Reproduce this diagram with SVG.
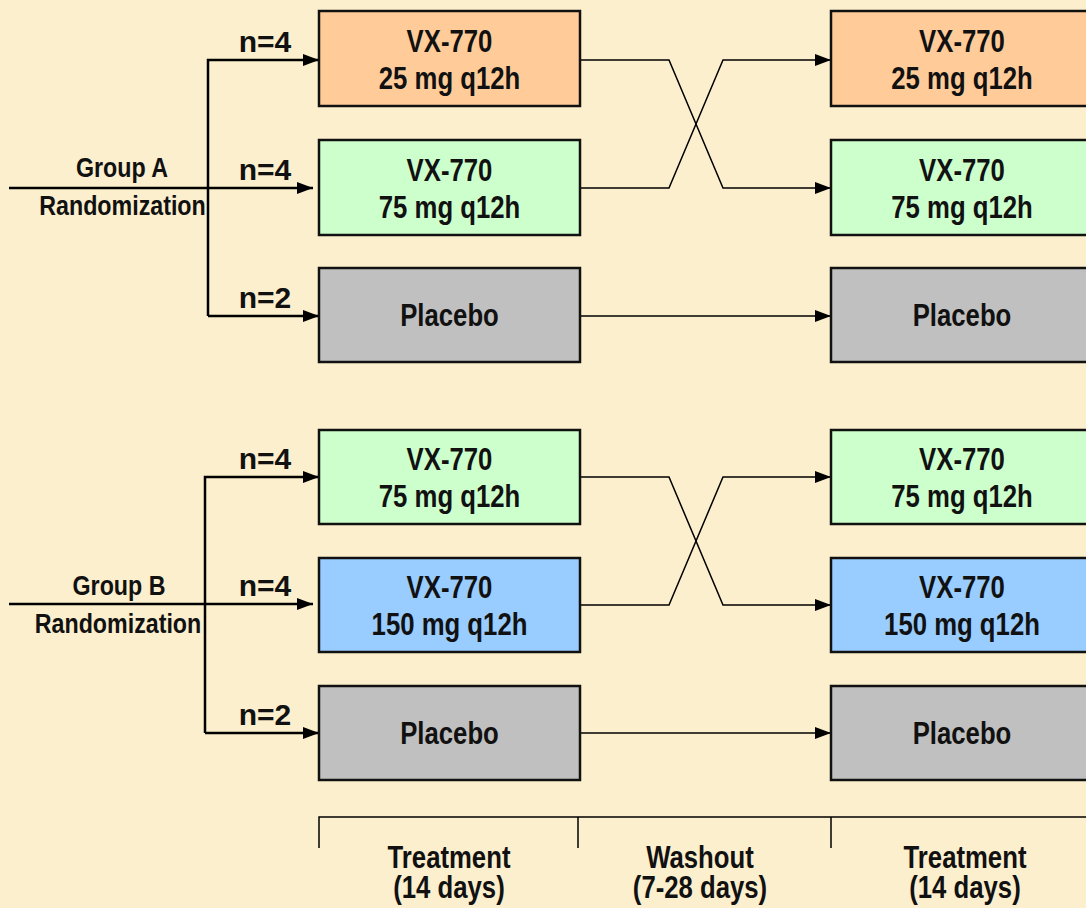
<svg xmlns="http://www.w3.org/2000/svg" width="1086" height="908" viewBox="0 0 1086 908">
<defs>
<marker id="ah" markerWidth="16" markerHeight="12" refX="16" refY="6" orient="auto" markerUnits="userSpaceOnUse">
<path d="M0,0 L16,6 L0,12 Z" fill="#000"/>
</marker>
<style>
.t{font-family:"Liberation Sans",Arial,sans-serif;font-weight:bold;fill:#111;text-anchor:middle}
.big{font-size:31px}
.n{font-size:30px}
.sm{font-size:28px}
.box{stroke:#111;stroke-width:2.5}
.ln{fill:none;stroke:#000;stroke-width:2.5}
.lt{fill:none;stroke:#000;stroke-width:1.5}
</style>
</defs>
<rect x="0" y="0" width="1086" height="908" fill="#FCEFCD"/>

<g id="connectors">
<path class="ln" d="M9,188 L313,188" marker-end="url(#ah)"/>
<path class="ln" d="M208,316 L208,60 L319,60" marker-end="url(#ah)"/>
<path class="ln" d="M208,316 L319,316" marker-end="url(#ah)"/>
<path class="lt" d="M580,60 L669,60 L723,188 L831,188" marker-end="url(#ah)"/>
<path class="lt" d="M580,188 L669,188 L723,60 L831,60" marker-end="url(#ah)"/>
<path class="lt" d="M580,316 L831,316" marker-end="url(#ah)"/>

<path class="ln" d="M9,604 L313,604" marker-end="url(#ah)"/>
<path class="ln" d="M205,733 L205,477 L319,477" marker-end="url(#ah)"/>
<path class="ln" d="M205,733 L319,733" marker-end="url(#ah)"/>
<path class="lt" d="M580,477 L669,477 L723,605 L831,605" marker-end="url(#ah)"/>
<path class="lt" d="M580,605 L669,605 L723,477 L831,477" marker-end="url(#ah)"/>
<path class="lt" d="M580,733 L831,733" marker-end="url(#ah)"/>

<path class="lt" d="M319,848 L319,817 L1086,817 M578,817 L578,848 M831,817 L831,848"/>
</g>

<g id="labels">
<text class="t sm" transform="matrix(0.83,0,0,1,122,0)" x="0" y="177">Group A</text>
<text class="t sm" transform="matrix(0.83,0,0,1,122.5,0)" x="0" y="215">Randomization</text>
<text class="t n" x="265" y="52">n=4</text>
<text class="t n" x="265" y="180">n=4</text>
<text class="t n" x="265" y="308">n=2</text>
<text class="t sm" transform="matrix(0.83,0,0,1,119,0)" x="0" y="595">Group B</text>
<text class="t sm" transform="matrix(0.83,0,0,1,118,0)" x="0" y="633">Randomization</text>
<text class="t n" x="265" y="469">n=4</text>
<text class="t n" x="265" y="596">n=4</text>
<text class="t n" x="265" y="725">n=2</text>
</g>

<g id="A1L"><rect class="box" x="319" y="11" width="261" height="95" fill="#FFCC99"/><text class="t big" transform="matrix(0.83,0,0,1,449.5,0)" x="0" y="52">VX-770</text><text class="t big" transform="matrix(0.83,0,0,1,449.5,0)" x="0" y="89">25 mg q12h</text></g>
<g id="A2L"><rect class="box" x="319" y="140" width="261" height="95" fill="#CCFFCC"/><text class="t big" transform="matrix(0.83,0,0,1,449.5,0)" x="0" y="181">VX-770</text><text class="t big" transform="matrix(0.83,0,0,1,449.5,0)" x="0" y="218">75 mg q12h</text></g>
<g id="A3L"><rect class="box" x="319" y="268" width="261" height="94" fill="#C0C0C0"/><text class="t big" transform="matrix(0.83,0,0,1,449.5,0)" x="0" y="326">Placebo</text></g>
<g id="A1R"><rect class="box" x="831" y="11" width="261" height="95" fill="#FFCC99"/><text class="t big" transform="matrix(0.83,0,0,1,962,0)" x="0" y="52">VX-770</text><text class="t big" transform="matrix(0.83,0,0,1,962,0)" x="0" y="89">25 mg q12h</text></g>
<g id="A2R"><rect class="box" x="831" y="140" width="261" height="95" fill="#CCFFCC"/><text class="t big" transform="matrix(0.83,0,0,1,962,0)" x="0" y="181">VX-770</text><text class="t big" transform="matrix(0.83,0,0,1,962,0)" x="0" y="218">75 mg q12h</text></g>
<g id="A3R"><rect class="box" x="831" y="268" width="261" height="94" fill="#C0C0C0"/><text class="t big" transform="matrix(0.83,0,0,1,962,0)" x="0" y="326">Placebo</text></g>

<g id="B1L"><rect class="box" x="319" y="430" width="261" height="94" fill="#CCFFCC"/><text class="t big" transform="matrix(0.83,0,0,1,449.5,0)" x="0" y="470">VX-770</text><text class="t big" transform="matrix(0.83,0,0,1,449.5,0)" x="0" y="507">75 mg q12h</text></g>
<g id="B2L"><rect class="box" x="319" y="558" width="261" height="94" fill="#99CCFF"/><text class="t big" transform="matrix(0.83,0,0,1,449.5,0)" x="0" y="598">VX-770</text><text class="t big" transform="matrix(0.83,0,0,1,449.5,0)" x="0" y="635">150 mg q12h</text></g>
<g id="B3L"><rect class="box" x="319" y="686" width="261" height="94" fill="#C0C0C0"/><text class="t big" transform="matrix(0.83,0,0,1,449.5,0)" x="0" y="744">Placebo</text></g>
<g id="B1R"><rect class="box" x="831" y="430" width="261" height="94" fill="#CCFFCC"/><text class="t big" transform="matrix(0.83,0,0,1,962,0)" x="0" y="470">VX-770</text><text class="t big" transform="matrix(0.83,0,0,1,962,0)" x="0" y="507">75 mg q12h</text></g>
<g id="B2R"><rect class="box" x="831" y="558" width="261" height="94" fill="#99CCFF"/><text class="t big" transform="matrix(0.83,0,0,1,962,0)" x="0" y="598">VX-770</text><text class="t big" transform="matrix(0.83,0,0,1,962,0)" x="0" y="635">150 mg q12h</text></g>
<g id="B3R"><rect class="box" x="831" y="686" width="261" height="94" fill="#C0C0C0"/><text class="t big" transform="matrix(0.83,0,0,1,962,0)" x="0" y="744">Placebo</text></g>

<g id="phases">
<text class="t big" transform="matrix(0.83,0,0,1,449,0)" x="0" y="868">Treatment</text>
<text class="t big" transform="matrix(0.83,0,0,1,449,0)" x="0" y="898">(14 days)</text>
<text class="t big" transform="matrix(0.83,0,0,1,700,0)" x="0" y="868">Washout</text>
<text class="t big" transform="matrix(0.83,0,0,1,700,0)" x="0" y="898">(7-28 days)</text>
<text class="t big" transform="matrix(0.83,0,0,1,965,0)" x="0" y="868">Treatment</text>
<text class="t big" transform="matrix(0.83,0,0,1,965,0)" x="0" y="898">(14 days)</text>
</g>
</svg>
